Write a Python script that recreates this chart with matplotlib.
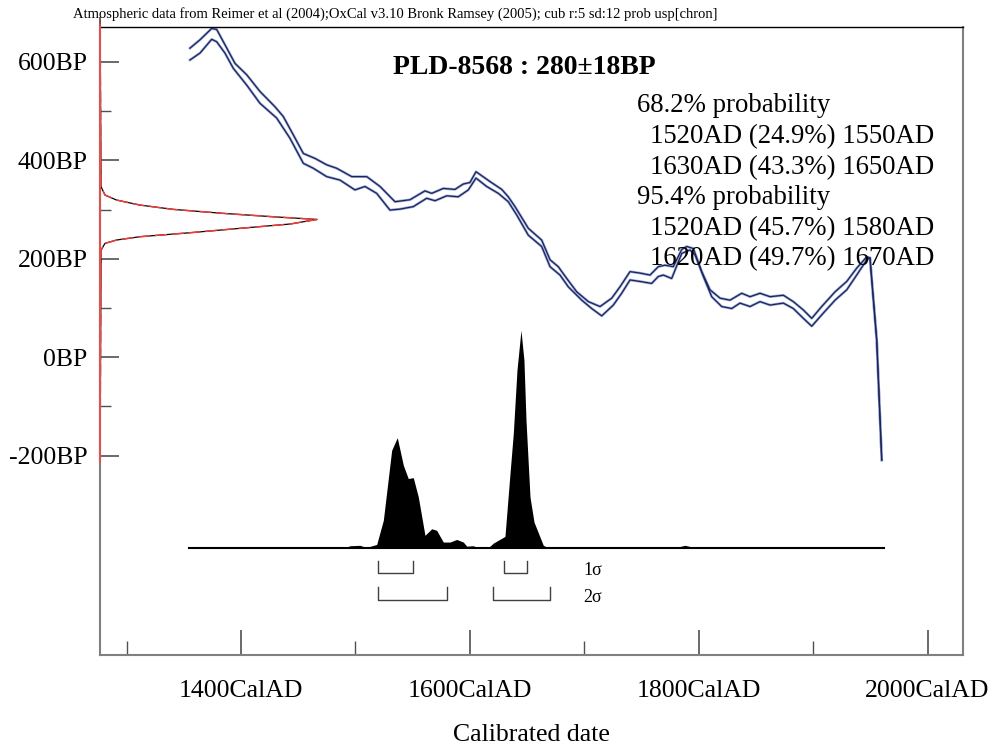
import matplotlib.pyplot as plt
from matplotlib.ticker import FixedLocator, NullFormatter

plt.rcParams['font.family'] = ['Liberation Serif', 'DejaVu Serif']

# calibration curve envelope (cal AD -> BP)
upper_years = [1355.4, 1364.2, 1374.4, 1378.8, 1386.0, 1394.8, 1405.0, 1416.6, 1429.7, 1437.0,
               1445.7, 1454.5, 1464.7, 1474.9, 1483.6, 1496.8, 1509.9, 1521.5, 1534.6, 1547.7,
               1560.8, 1566.7, 1576.8, 1587.0, 1594.3, 1600.1, 1605.4, 1617.6, 1627.9, 1633.6,
               1639.5, 1651.1, 1662.8, 1670.1, 1677.3, 1684.7, 1693.4, 1703.6, 1713.8, 1724.0,
               1731.2, 1740.0, 1748.7, 1757.5, 1764.7, 1770.6, 1777.8, 1785.2, 1789.5, 1795.3,
               1802.7, 1809.9, 1818.7, 1827.4, 1837.6, 1844.9, 1853.6, 1862.4, 1874.0, 1882.7,
               1891.5, 1898.8, 1907.5, 1919.2, 1929.4, 1938.1, 1946.9, 1949.7, 1955.6, 1960.0]
upper_bp = [628, 645, 668, 666, 635, 597, 574, 540, 509, 489,
            452, 414, 404, 391, 384, 367, 367, 347, 316, 320,
            338, 333, 343, 341, 352, 355, 377, 357, 341, 326,
            306, 262, 238, 198, 184, 160, 133, 113, 103, 120,
            143, 174, 171, 167, 184, 187, 184, 219, 225, 221,
            174, 137, 120, 116, 130, 123, 130, 123, 126, 113,
            96, 79, 103, 133, 154, 181, 204, 202, 35, -209]

lower_years = [1355.4, 1364.2, 1374.4, 1378.8, 1386.0, 1393.3, 1405.0, 1416.6, 1431.2, 1442.8,
               1454.5, 1463.2, 1474.9, 1486.5, 1499.6, 1508.4, 1518.6, 1530.2, 1539.0, 1550.6,
               1562.3, 1569.6, 1579.8, 1589.9, 1598.7, 1605.4, 1614.7, 1624.9, 1633.6, 1641.0,
               1651.1, 1662.8, 1670.1, 1678.8, 1686.1, 1697.8, 1706.5, 1715.3, 1725.4, 1732.7,
               1740.0, 1748.7, 1758.9, 1764.7, 1769.1, 1776.4, 1785.2, 1792.4, 1796.8, 1804.1,
               1811.4, 1820.1, 1828.9, 1836.1, 1844.9, 1853.6, 1862.4, 1874.0, 1882.7, 1891.5,
               1898.8, 1907.5, 1919.2, 1929.4, 1938.1, 1946.9, 1949.7, 1955.6, 1960.0]
lower_bp = [604, 618, 646, 641, 618, 587, 553, 516, 486, 445,
            394, 384, 367, 360, 340, 347, 333, 299, 301, 306,
            323, 318, 328, 326, 340, 364, 347, 333, 316, 289,
            248, 225, 184, 167, 143, 116, 99, 84, 106, 130,
            157, 154, 150, 164, 167, 160, 211, 218, 208, 164,
            123, 103, 99, 110, 103, 113, 106, 110, 99, 79,
            63, 86, 116, 137, 167, 198, 202, 35, -209]

date_bp = [-210, 217.8, 231.4, 238.2, 244.9, 253.0, 261.9, 270.7, 280.0,
           285.4, 292.3, 300.4, 309.2, 319.3, 329.5, 346.4, 690]
date_prob = [0, 0.005, 0.023, 0.077, 0.184, 0.415, 0.645, 0.876, 1.0,
             0.799, 0.568, 0.338, 0.184, 0.077, 0.023, 0.005, 0]

# calibrated date distribution (relative)
cal_years = [1355, 1490.9, 1495.3, 1504.0, 1508.4, 1512.7, 1518.6, 1524.4, 1531.7, 1536.6,
             1541.9, 1546.2, 1550.6, 1555.0, 1560.8, 1566.7, 1571.0, 1576.8, 1582.7, 1588.5,
             1594.3, 1597.3, 1603.0, 1607.4, 1616.1, 1620.5, 1630.7, 1635.1, 1638.0, 1641.2,
             1644.7, 1647.3, 1649.1, 1652.6, 1656.1, 1664.2, 1668.6, 1781, 1784, 1788,
             1792, 1795, 1962]
cal_prob = [0, 0, 0.009, 0.011, 0.003, 0.006, 0.015, 0.126, 0.448, 0.506,
            0.379, 0.318, 0.322, 0.233, 0.057, 0.087, 0.080, 0.026, 0.026, 0.038,
            0.026, 0.007, 0.009, 0, 0, 0.021, 0.052, 0.341, 0.525, 0.816,
            1.0, 0.862, 0.586, 0.233, 0.118, 0.011, 0, 0, 0.006, 0.011,
            0.006, 0, 0]

sigma1_ranges = [(1520, 1550), (1630, 1650)]
sigma2_ranges = [(1520, 1580), (1620, 1670)]

header = ("Atmospheric data from Reimer et al (2004);OxCal v3.10 Bronk Ramsey (2005); "
          "cub r:5 sd:12 prob usp[chron]")
title = "PLD-8568 : 280\u00b118BP"
prob_lines = ["68.2% probability",
              "1520AD (24.9%) 1550AD",
              "1630AD (43.3%) 1650AD",
              "95.4% probability",
              "1520AD (45.7%) 1580AD",
              "1620AD (49.7%) 1670AD"]

xticks_major = [1400, 1600, 1800, 2000]
xticks_minor = [1300, 1500, 1700, 1900]
yticks_major = [-200, 0, 200, 400, 600]
yticks_minor = [-100, 100, 300, 500]

W, H = 997, 746
fig = plt.figure(figsize=(W / 100, H / 100), dpi=100)
ax = fig.add_axes([100 / W, 1 - 655 / H, 863 / W, 628 / H])
xmin, xmax = 1276.8, 2031.0
ymin, ymax = -605, 671
ax.set_xlim(xmin, xmax)
ax.set_ylim(ymin, ymax)

# measured date on the y axis
amp = 189.7
dx = [xmin + amp * p for p in date_prob]
ax.plot(dx, date_bp, color='black', lw=0.9, zorder=3, clip_on=False)
ax.plot(dx, date_bp, color='#e8403a', lw=1.1, dashes=(8, 3), zorder=4, clip_on=False)
ax.plot([xmin, xmin], [date_bp[0], ymax], color='#d9534f', lw=1.5, zorder=5, clip_on=False)

# calibration curve
for yrs, bp in [(upper_years, upper_bp), (lower_years, lower_bp)]:
    ax.plot(yrs, bp, color='#9aaae0', lw=1.9, zorder=2)
    ax.plot(yrs, bp, color='#1c2450', lw=0.9, zorder=3)

# calibrated distribution
base, scale = -387, 442
ax.fill_between(cal_years, base, [base + scale * p for p in cal_prob],
                color='black', lw=0, zorder=3)
ax.plot([cal_years[0], cal_years[-1]], [base, base], color='black', lw=1.5, zorder=3)

# 1 sigma / 2 sigma ranges
for ranges, yline, label in [(sigma1_ranges, -439, '1\u03c3'), (sigma2_ranges, -493, '2\u03c3')]:
    for a, b in ranges:
        ax.plot([a, a, b, b], [yline + 26, yline, yline, yline + 26],
                color='#404040', lw=1.0)
    ax.text(1699, yline + 5, label, fontsize=13, va='center', ha='left')

# axes styling
for side in ['left', 'right', 'bottom']:
    ax.spines[side].set_color('#808080')
    ax.spines[side].set_linewidth(1.5)
ax.spines['top'].set_color('black')
ax.spines['top'].set_linewidth(1.0)

ax.xaxis.set_major_locator(FixedLocator(xticks_major))
ax.xaxis.set_minor_locator(FixedLocator(xticks_minor))
ax.yaxis.set_major_locator(FixedLocator(yticks_major))
ax.yaxis.set_minor_locator(FixedLocator(yticks_minor))
ax.set_xticklabels([f"{v}CalAD" for v in xticks_major])
ax.set_yticklabels([f"{v}BP" for v in yticks_major])
ax.xaxis.set_minor_formatter(NullFormatter())
ax.tick_params(axis='both', which='both', direction='in', colors='#505050',
               labelcolor='black', labelsize=18.5)
ax.tick_params(axis='x', which='major', length=18, width=1.2, pad=18)
ax.tick_params(axis='x', which='minor', length=10, width=1.0)
ax.tick_params(axis='y', which='major', length=14, width=1.2, pad=9)
ax.tick_params(axis='y', which='minor', length=8, width=1.0)
ax.set_xlabel("Calibrated date", fontsize=18.5, labelpad=16)

fig.text(73 / W, 1 - 14 / H, header, fontsize=10.5, va='center', ha='left')
fig.text(524 / W, 1 - 67 / H, title, fontsize=20, fontweight='bold', va='center', ha='center')
prob_y = [106, 137, 168, 198, 229, 259]
prob_x = [637, 650, 650, 637, 650, 650]
for txt, px, py in zip(prob_lines, prob_x, prob_y):
    fig.text(px / W, 1 - py / H, txt, fontsize=19.3, va='center', ha='left')

fig.savefig("out.png", dpi=100)
